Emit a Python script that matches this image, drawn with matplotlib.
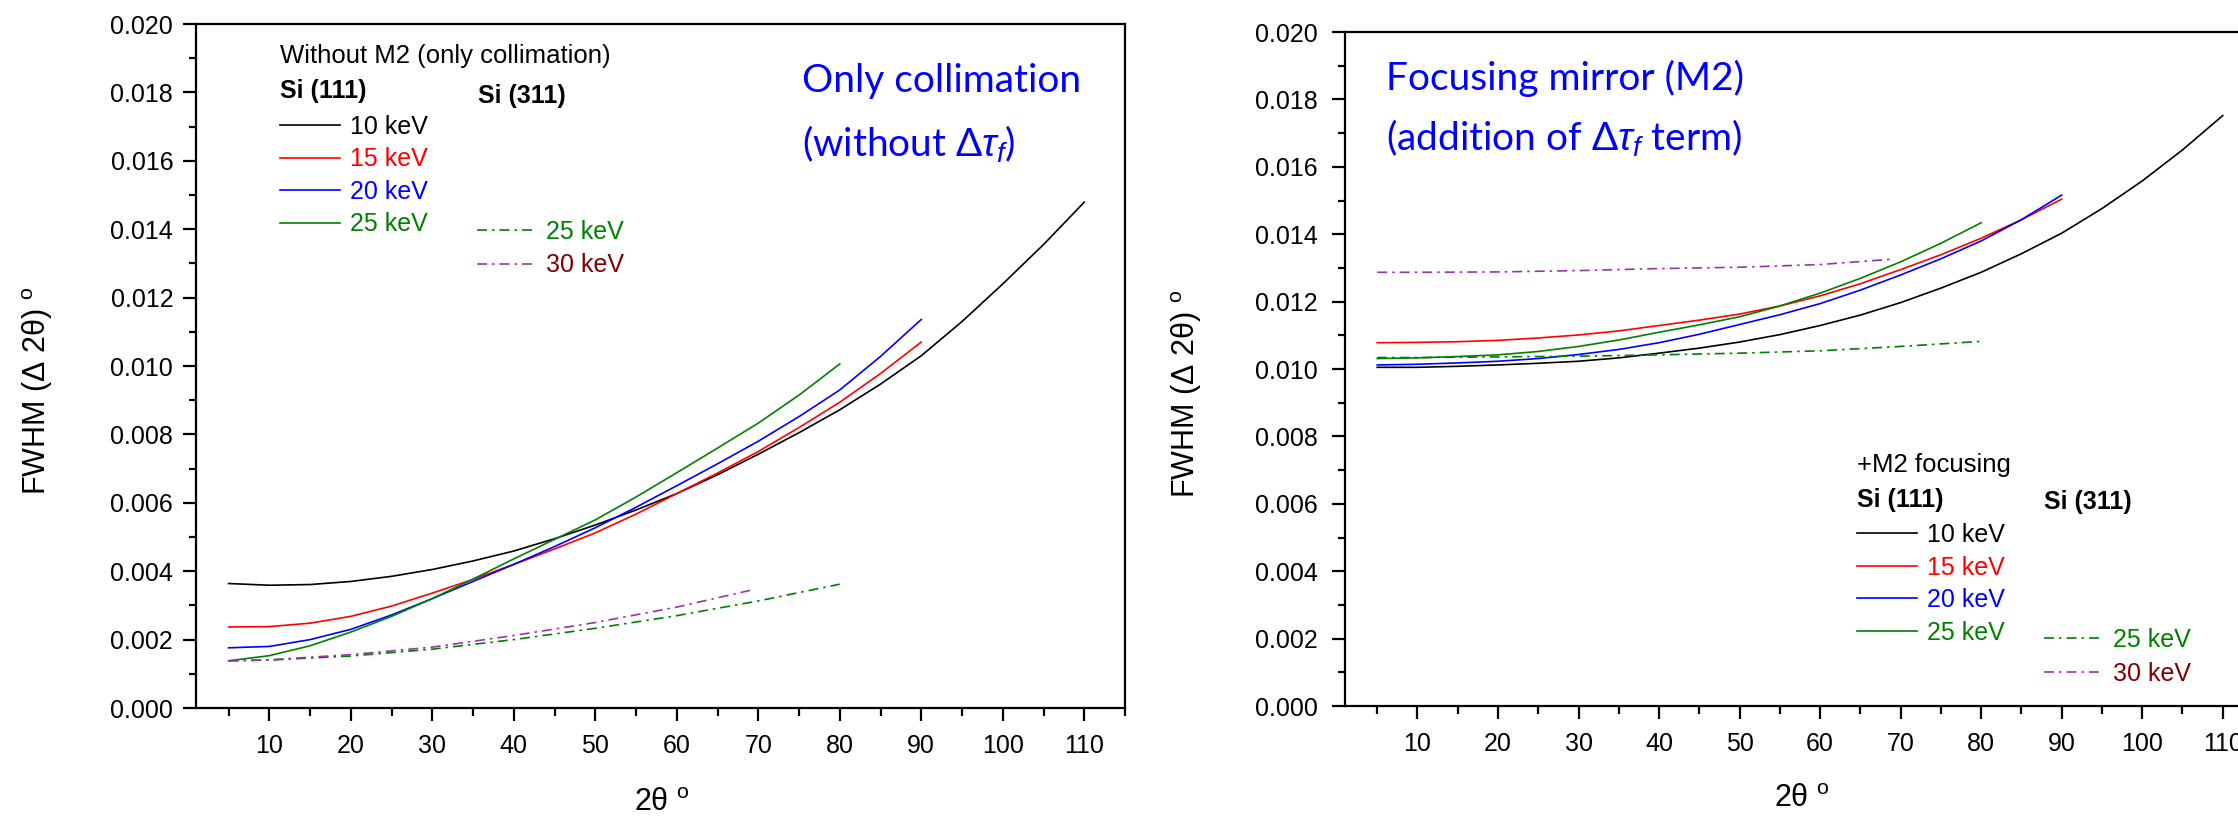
import matplotlib
matplotlib.use("Agg")
import matplotlib.pyplot as plt
from matplotlib.ticker import MultipleLocator, FormatStrFormatter

plt.rcParams['font.family'] = ['Liberation Sans', 'DejaVu Sans']
plt.rcParams['mathtext.fontset'] = 'custom'
plt.rcParams['mathtext.rm'] = 'Liberation Sans'
plt.rcParams['mathtext.it'] = 'Liberation Sans:italic'
plt.rcParams['mathtext.bf'] = 'Liberation Sans:bold'

# 2theta values (deg) for each curve
tt_10 = [5, 10, 15, 20, 25, 30, 35, 40, 45, 50, 55, 60, 65, 70, 75, 80, 85, 90, 95, 100, 105, 110]
tt_15 = [5, 10, 15, 20, 25, 30, 35, 40, 45, 50, 55, 60, 65, 70, 75, 80, 85, 90]
tt_20 = [5, 10, 15, 20, 25, 30, 35, 40, 45, 50, 55, 60, 65, 70, 75, 80, 85, 90]
tt_25 = [5, 10, 15, 20, 25, 30, 35, 40, 45, 50, 55, 60, 65, 70, 75, 80]
tt_311_25 = [5, 10, 20, 30, 40, 50, 60, 70, 80]
tt_311_30 = [5, 10, 20, 30, 40, 50, 60, 69]

# left panel: without M2 (only collimation)
collim_10 = [0.00364, 0.00359, 0.00361, 0.00370, 0.00385, 0.00405, 0.00430, 0.00459, 0.00495, 0.00535, 0.00579,
             0.00627, 0.00682, 0.00742, 0.00805, 0.00872, 0.00947, 0.01030, 0.01130, 0.01240, 0.01355, 0.01479]
collim_15 = [0.00237, 0.00238, 0.00248, 0.00268, 0.00298, 0.00336, 0.00376, 0.00420, 0.00465, 0.00512, 0.00567,
             0.00627, 0.00687, 0.00750, 0.00820, 0.00894, 0.00978, 0.01070]
collim_20 = [0.00176, 0.00180, 0.00200, 0.00230, 0.00272, 0.00320, 0.00370, 0.00420, 0.00472, 0.00527, 0.00587,
             0.00650, 0.00714, 0.00780, 0.00852, 0.00930, 0.01028, 0.01136]
collim_25 = [0.00138, 0.00153, 0.00182, 0.00222, 0.00268, 0.00320, 0.00377, 0.00436, 0.00493, 0.00550, 0.00617,
             0.00688, 0.00760, 0.00833, 0.00915, 0.01006]
collim_311_25 = [0.00138, 0.00140, 0.00152, 0.00172, 0.00200, 0.00233, 0.00270, 0.00313, 0.00362]
collim_311_30 = [0.00138, 0.00141, 0.00156, 0.00178, 0.00212, 0.00250, 0.00295, 0.00344]

# right panel: with M2 focusing
focus_10 = [0.01005, 0.01005, 0.01008, 0.01012, 0.01017, 0.01023, 0.01033, 0.01047, 0.01062, 0.01080, 0.01102,
            0.01129, 0.01160, 0.01197, 0.01240, 0.01287, 0.01342, 0.01403, 0.01476, 0.01558, 0.01650, 0.01752]
focus_15 = [0.01078, 0.01079, 0.01081, 0.01085, 0.01092, 0.01101, 0.01113, 0.01129, 0.01145, 0.01163, 0.01187,
            0.01217, 0.01253, 0.01295, 0.01339, 0.01388, 0.01443, 0.01504]
focus_20 = [0.01012, 0.01014, 0.01018, 0.01023, 0.01031, 0.01043, 0.01058, 0.01078, 0.01103, 0.01132, 0.01161,
            0.01194, 0.01234, 0.01279, 0.01327, 0.01380, 0.01443, 0.01516]
focus_25 = [0.01031, 0.01033, 0.01037, 0.01042, 0.01052, 0.01067, 0.01086, 0.01109, 0.01131, 0.01155, 0.01187,
            0.01225, 0.01269, 0.01318, 0.01373, 0.01434]
focus_311_25 = [0.01034, 0.01034, 0.01036, 0.01038, 0.01042, 0.01047, 0.01054, 0.01067, 0.01082]
focus_311_30 = [0.01287, 0.01287, 0.01288, 0.01292, 0.01298, 0.01302, 0.01310, 0.01326]

labels_111 = ['10 keV', '15 keV', '20 keV', '25 keV']
labels_311 = ['25 keV', '30 keV']
colors_111 = ['#000000', '#ff0000', '#0000ff', '#008000']
colors_311 = ['#008000', '#9933aa']
text_colors_311 = ['#008000', '#800000']
DASHDOT = (0, (6, 3, 1.5, 3))

fig = plt.figure(figsize=(22.38, 8.19), dpi=100)
ax1 = fig.add_axes([196 / 2238, 111 / 819, 929 / 2238, 684 / 819])
ax2 = fig.add_axes([1345 / 2238, 113 / 819, 918 / 2238, 674 / 819])


def style_axes(ax, ypad):
    ax.set_xlim(1, 115)
    ax.set_ylim(0, 0.020)
    ax.xaxis.set_major_locator(MultipleLocator(10))
    ax.xaxis.set_minor_locator(MultipleLocator(5))
    ax.yaxis.set_major_locator(MultipleLocator(0.002))
    ax.yaxis.set_minor_locator(MultipleLocator(0.001))
    ax.yaxis.set_major_formatter(FormatStrFormatter('%.3f'))
    for s in ax.spines.values():
        s.set_linewidth(1.6)
    ax.tick_params(which='both', direction='out', width=1.6, top=False, right=False)
    ax.tick_params(which='major', length=9.4, labelsize=18)
    ax.tick_params(which='minor', length=5.4)
    ax.tick_params(axis='y', which='major', pad=ypad)
    ax.tick_params(axis='x', which='major', pad=9.5)
    ax.set_xlabel('2θ $^{\\rm o}$', fontsize=22, va='center')
    ax.set_ylabel('FWHM (Δ 2θ) $^{\\rm o}$', fontsize=22, va='center')


def add_legends(ax, series_111, series_311, header, head_xy, s111_xy, s311_xy, leg1_xy, leg2_xy):
    h111 = []
    for (x, y), lab, c in zip(series_111, labels_111, colors_111):
        h111 += ax.plot(x, y, color=c, lw=1.2, label=lab)
    h311 = []
    for (x, y), lab, c in zip(series_311, labels_311, colors_311):
        h311 += ax.plot(x, y, color=c, lw=1.2, ls=DASHDOT, label=lab)

    ax.text(*head_xy, header, transform=ax.transAxes, fontsize=18.5, va='center', ha='left')
    ax.text(*s111_xy, 'Si (111)', transform=ax.transAxes, fontsize=18, fontweight='bold',
            va='center', ha='left')
    ax.text(*s311_xy, 'Si (311)', transform=ax.transAxes, fontsize=18, fontweight='bold',
            va='center', ha='left')

    leg1 = ax.legend(handles=h111, loc='upper left', bbox_to_anchor=leg1_xy, frameon=False,
                     fontsize=18, handlelength=2.4, handletextpad=0.4, labelspacing=0.34,
                     borderpad=0, borderaxespad=0)
    for t, c in zip(leg1.get_texts(), colors_111):
        t.set_color(c)
    ax.add_artist(leg1)

    leg2 = ax.legend(handles=h311, loc='upper left', bbox_to_anchor=leg2_xy, frameon=False,
                     fontsize=18, handlelength=2.3, handletextpad=0.45, labelspacing=0.38,
                     borderpad=0, borderaxespad=0)
    for t, c in zip(leg2.get_texts(), text_colors_311):
        t.set_color(c)


style_axes(ax1, ypad=7)
style_axes(ax2, ypad=10)
ax1.xaxis.set_label_coords(0.5016, -0.139)
ax1.yaxis.set_label_coords(-0.171, 0.4635)
ax2.xaxis.set_label_coords(0.498, -0.138)
ax2.yaxis.set_label_coords(-0.173, 0.463)

add_legends(ax1,
            [(tt_10, collim_10), (tt_15, collim_15), (tt_20, collim_20), (tt_25, collim_25)],
            [(tt_311_25, collim_311_25), (tt_311_30, collim_311_30)],
            'Without M2 (only collimation)',
            (0.0904, 0.953), (0.0904, 0.902), (0.3036, 0.895), (0.0904, 0.867), (0.3025, 0.7135))

add_legends(ax2,
            [(tt_10, focus_10), (tt_15, focus_15), (tt_20, focus_20), (tt_25, focus_25)],
            [(tt_311_25, focus_311_25), (tt_311_30, focus_311_30)],
            '+M2 focusing',
            (0.5577, 0.3576), (0.5577, 0.3056), (0.7614, 0.3027), (0.5577, 0.2715), (0.7614, 0.1157))

note_font = ['Lato', 'DejaVu Sans']
ax1.text(0.6523, 0.9167, 'Only collimation', transform=ax1.transAxes, color='#0000ff',
         fontsize=28, family=note_font, va='center', ha='left')
ax1.text(0.6523, 0.8246, '(without Δ$\\tau_f$)', transform=ax1.transAxes, color='#0000ff',
         fontsize=28, family=note_font, va='center', ha='left')
ax2.text(0.0447, 0.9318, 'Focusing mirror (M2)', transform=ax2.transAxes, color='#0000ff',
         fontsize=28, family=note_font, va='center', ha='left')
ax2.text(0.0447, 0.8427, '(addition of Δ$\\tau_f$ term)', transform=ax2.transAxes, color='#0000ff',
         fontsize=28, family=note_font, va='center', ha='left')

fig.savefig('out.png', dpi=100)
